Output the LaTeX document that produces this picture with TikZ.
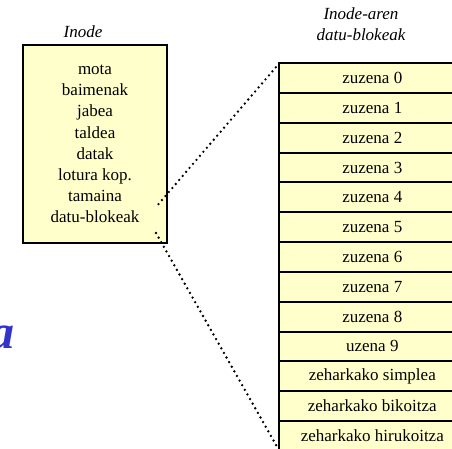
\documentclass[tikz,border=0pt]{standalone}
\usepackage{fontspec}
\setmainfont{Liberation Serif}
\definecolor{horia}{RGB}{255,255,204}
\definecolor{urdina}{RGB}{51,51,204}

\begin{document}
\begin{tikzpicture}[x=1pt,y=-1pt,
    kutxa/.style={draw,line width=2pt,fill=horia,outer sep=0pt,inner sep=0pt},
    lerroa/.style={kutxa,minimum width=186pt,minimum height=29.8pt,anchor=north west,font=\fontsize{17}{20}\selectfont},
    izenburua/.style={align=center,font=\fontsize{17}{21}\selectfont\itshape},
    puntuak/.style={line width=2.6pt,line cap=round,dash pattern=on 0pt off 5.3pt}]
  \useasboundingbox (0,0) rectangle (452,449);
  \clip (0,0) rectangle (452,449);
  % inodoa
  \node[izenburua] (inodeizena) at (83,32) {Inode};
  \node[kutxa,minimum width=144pt,minimum height=198pt,align=center,font=\fontsize{17}{21.2}\selectfont] (inode) at (95,144)
    {mota\\baimenak\\jabea\\taldea\\datak\\lotura kop.\\tamaina\\datu-blokeak};
  % datu-blokeen taula
  \node[izenburua] (taulaizena) at (361,24) {Inode-aren\\datu-blokeak};
  \foreach \txt [count=\i] in {zuzena 0,zuzena 1,zuzena 2,zuzena 3,zuzena 4,zuzena 5,zuzena 6,
      zuzena 7,zuzena 8,uzena 9,zeharkako simplea,zeharkako bikoitza,zeharkako hirukoitza}
    \node[lerroa] (blk-\i) at (279.3,{63.3+29.8*(\i-1)}) {\txt};
  % lotura puntukatuak
  \coordinate (goiko) at (156,207);
  \coordinate (beheko) at (156,233);
  \draw[puntuak] (blk-1.north west) -- (goiko);
  \draw[puntuak] (beheko) -- (blk-13.south west);
  % izenburuaren zatia
  \node[font=\fontsize{48}{48}\selectfont\bfseries\itshape,text=urdina,anchor=base east,inner sep=0pt] (letra) at (15,348) {a};
\end{tikzpicture}
\end{document}
